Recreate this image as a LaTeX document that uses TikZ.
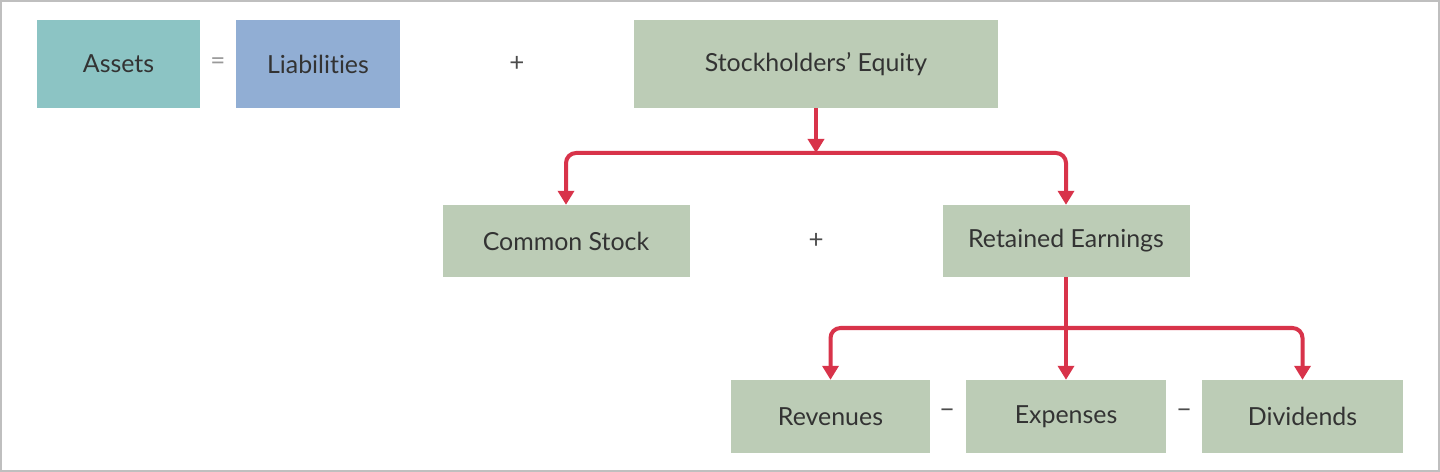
\documentclass[tikz,border=0pt]{standalone}
\usepackage{fontspec}
\setmainfont[Ligatures={NoCommon}]{Lato}
\usetikzlibrary{arrows.meta}
\definecolor{teal}{HTML}{8CC4C4}
\definecolor{liab}{HTML}{91AED4}
\definecolor{sage}{HTML}{BCCCB6}
\definecolor{arr}{HTML}{D8334A}
\begin{document}
\begin{tikzpicture}[x=1bp,y=-1bp,
 box/.style={fill=sage,inner sep=0pt,font=\fontsize{25}{28}\selectfont,text=black!80},
 op/.style={font=\fontsize{26}{28}\selectfont,text=black!70},
 con/.style={draw=arr,line width=4bp,rounded corners=10bp,-{Triangle[length=14bp,width=16bp]}}]
\useasboundingbox (0,0) rectangle (1440,472);
\draw[black!25,line width=2bp] (1,1) rectangle (1439,471);
\node[box,fill=teal,minimum width=163bp,minimum height=88bp] (a) at (118.5,64) {Assets};
\node[op,text=black!40] (eq) at (218,64) {=};
\node[box,fill=liab,minimum width=164bp,minimum height=88bp] (l) at (318,64) {Liabilities};
\node[op] (p1) at (517,64) {+};
\node[box,minimum width=364bp,minimum height=88bp] (se) at (816,64) {Stockholders’ Equity};
\node[box,minimum width=247bp,minimum height=72bp] (cs) at (566,241) {Common Stock};
\node[op] (p2) at (816,241) {+};
\node[box,minimum width=247bp,minimum height=72bp] (re) at (1066,241) {Retained Earnings};
\node[box,minimum width=199bp,minimum height=73bp] (rev) at (830.5,416.5) {Revenues};
\node[op] (m1) at (947,414) {−};
\node[box,minimum width=200bp,minimum height=73bp] (exp) at (1066,416.5) {Expenses};
\node[op] (m2) at (1184,414) {−};
\node[box,minimum width=201bp,minimum height=73bp] (div) at (1302.5,416.5) {Dividends};
\coordinate (j1) at (816,153);
\coordinate (j2) at (1066,328);
\draw[con] (se.south) -- (j1);
\draw[con] (j1) -| (cs.north);
\draw[con] (j1) -| (re.north);
\draw[con] (re.south) -- (exp.north);
\draw[con] (j2) -| (rev.north);
\draw[con] (j2) -| (div.north);
\end{tikzpicture}
\end{document}
